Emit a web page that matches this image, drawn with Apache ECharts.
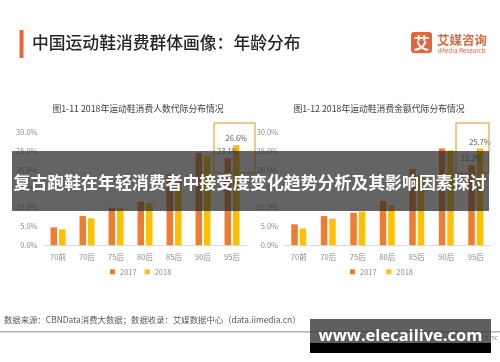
<!DOCTYPE html>
<html>
<head>
<meta charset="utf-8">
<script src="https://cdn.jsdelivr.net/npm/echarts@6/dist/echarts.min.js"></script>
</head>
<body style="margin:0;padding:0">
<div id="chart" style="width:500px;height:362px"></div>
<script>
var ages = ['70前', '70后', '75后', '80后', '85后', '90后', '95后'];
var people2017 = [4.7, 7.7, 9.9, 11.5, 18.8, 24.5, 23.1];
var people2018 = [4.2, 7.1, 9.9, 11.2, 17.0, 23.7, 26.6];
var spend2017 = [5.5, 7.7, 8.6, 11.7, 20.2, 25.7, 21.2];
var spend2018 = [4.4, 7.0, 8.9, 10.6, 18.6, 25.2, 25.7];
var yTicks = [0, 30, 5];

var C17 = '#ED7D31', C18 = '#FFC000';
var font = '"Noto Sans CJK SC", "Noto Sans", sans-serif';

// only the last bar of each series gets a value label
function withLast(arr) {
  return arr.map(function (v, i) {
    if (i === arr.length - 1) {
      return { value: v, label: { show: true, position: 'top', distance: 3, color: '#595959', fontSize: 7.5, fontFamily: font, formatter: function (p) { return p.value.toFixed(1) + '%'; } } };
    }
    return v;
  });
}

function yAx(idx) {
  return {
    gridIndex: idx, type: 'value', min: yTicks[0], max: yTicks[1], interval: yTicks[2],
    axisLine: { show: false }, axisTick: { show: false }, splitLine: { show: false },
    axisLabel: { color: '#8c8c8c', fontSize: 7.5, fontFamily: font, margin: 6, formatter: function (v) { return v.toFixed(1) + '%'; } }
  };
}
function xAx(idx) {
  return {
    gridIndex: idx, type: 'category', data: ages,
    axisLine: { lineStyle: { color: '#d9d9d9' } }, axisTick: { show: false },
    axisLabel: { color: '#8c8c8c', fontSize: 7.5, fontFamily: font, margin: 8 }
  };
}
function bar(name, data, color, idx) {
  return {
    name: name, type: 'bar', xAxisIndex: idx, yAxisIndex: idx, data: data,
    barWidth: 6.5, barGap: '30%', itemStyle: { color: color }
  };
}

var chart = echarts.init(document.getElementById('chart'));
chart.setOption({
  backgroundColor: '#fff',
  animation: false,
  title: [
    { text: '图1-11 2018年运动鞋消费人数代际分布情况', left: 133, top: 99, textAlign: 'center',
      textStyle: { fontSize: 8.8, fontWeight: 'normal', color: '#404040', fontFamily: font } },
    { text: '图1-12 2018年运动鞋消费金额代际分布情况', left: 374, top: 99, textAlign: 'center',
      textStyle: { fontSize: 8.8, fontWeight: 'normal', color: '#404040', fontFamily: font } }
  ],
  legend: [
    { data: ['2017', '2018'], left: 110, top: 268, padding: 0, itemWidth: 5, itemHeight: 5, itemGap: 8, icon: 'rect',
      textStyle: { fontSize: 7.5, color: '#8c8c8c', fontFamily: font } },
    { data: ['2017 ', '2018 '], left: 350, top: 268, padding: 0, itemWidth: 5, itemHeight: 5, itemGap: 8, icon: 'rect',
      textStyle: { fontSize: 7.5, color: '#8c8c8c', fontFamily: font } }
  ],
  grid: [
    { left: 43.5, right: 253.5, top: 132.3, bottom: 117 },
    { left: 284, right: 9.5, top: 132.3, bottom: 117 }
  ],
  xAxis: [xAx(0), xAx(1)],
  yAxis: [yAx(0), yAx(1)],
  series: [
    bar('2017', withLast(people2017), C17, 0),
    bar('2018', withLast(people2018), C18, 0),
    bar('2017 ', withLast(spend2017), C17, 1),
    bar('2018 ', withLast(spend2018), C18, 1)
  ],
  graphic: [
    { type: 'rect', shape: { x: 19.5, y: 30, width: 4, height: 28 }, style: { fill: '#E8663A' } },
    { type: 'text', x: 32, y: 43, style: { text: '中国运动鞋消费群体画像：年龄分布', fill: '#262626', font: '500 16.8px ' + font, textVerticalAlign: 'middle' } },
    { type: 'rect', shape: { x: 411, y: 32, width: 21, height: 21, r: 3 }, style: { fill: '#E2663B' } },
    { type: 'text', x: 421.5, y: 43, style: { text: '艾', fill: '#fff', font: 'bold 16px ' + font, textAlign: 'center', textVerticalAlign: 'middle' } },
    { type: 'text', x: 437, y: 40, style: { text: '艾媒咨询', fill: '#E2663B', font: 'bold 12.5px ' + font, textVerticalAlign: 'middle' } },
    { type: 'text', x: 438, y: 50.5, style: { text: 'iMedia Research', fill: '#E2663B', font: '6.3px ' + font, textVerticalAlign: 'middle' } },
    { type: 'rect', z: 50, shape: { x: 214, y: 123, width: 41, height: 50 }, style: { fill: 'none', stroke: '#EFB866', lineWidth: 1.5 } },
    { type: 'rect', z: 50, shape: { x: 456, y: 123, width: 33, height: 50 }, style: { fill: 'none', stroke: '#EFB866', lineWidth: 1.5 } },
    { type: 'rect', z: 100, shape: { x: 12, y: 151, width: 477, height: 60 }, style: { fill: 'rgba(40,40,40,0.72)' } },
    { type: 'text', z: 101, x: 250, y: 183, style: { text: '复古跑鞋在年轻消费者中接受度变化趋势分析及其影响因素探讨', fill: '#fff', font: 'bold 16.9px ' + font, textAlign: 'center', textVerticalAlign: 'middle' } },
    { type: 'text', x: 4, y: 320, style: { text: '数据来源：CBNData消费大数据；数据收录：艾媒数据中心（data.iimedia.cn）', fill: '#595959', font: '8.4px ' + font, textVerticalAlign: 'middle' } },
    { type: 'rect', shape: { x: 0, y: 331, width: 500, height: 1.5 }, style: { fill: '#b3b3b3' } },
    { type: 'text', x: 498, y: 338, style: { text: '艾媒报告中心：report.iimedia.cn  ©2019 iiMedia Research Inc', fill: '#8c8c8c', font: '6px ' + font, textAlign: 'right', textVerticalAlign: 'middle' } },
    { type: 'rect', z: 100, shape: { x: 310, y: 319, width: 181, height: 25 }, style: { fill: 'rgba(55,55,55,0.8)' } },
    { type: 'rect', z: 100, shape: { x: 310, y: 343, width: 181, height: 10 }, style: { fill: '#000' } },
    { type: 'text', z: 101, x: 400.5, y: 336, style: { text: 'www.elecailive.com', fill: '#fff', font: 'bold 16.5px "Open Sans", sans-serif', textAlign: 'center', textVerticalAlign: 'middle' } }
  ]
});
</script>
</body>
</html>
